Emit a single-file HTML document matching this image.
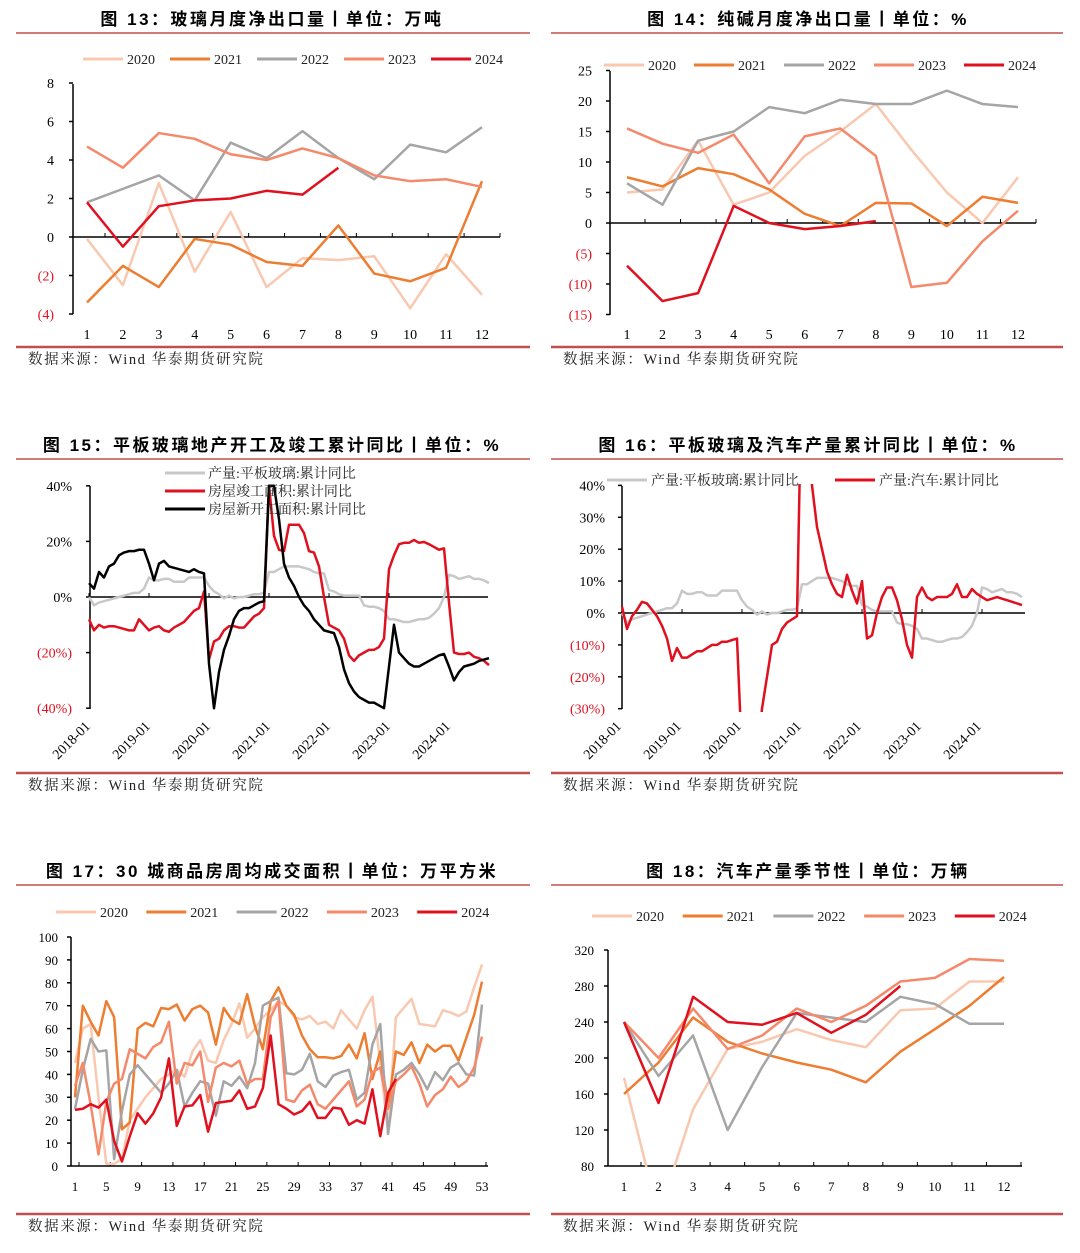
<!DOCTYPE html>
<html><head><meta charset="utf-8"><style>
html,body{margin:0;padding:0;background:#fff;}
svg{display:block;}
text{font-family:"Liberation Serif","Noto Serif CJK SC",serif;}
.t{font-family:"Liberation Sans","Noto Sans CJK SC",sans-serif;font-weight:bold;font-size:17px;letter-spacing:2.5px;}
.src{font-family:"Liberation Serif","Noto Serif CJK SC",serif;font-size:14.5px;fill:#222;letter-spacing:1.6px;}
</style></head><body>
<svg id="page" width="1080" height="1253" viewBox="0 0 1080 1253" xmlns="http://www.w3.org/2000/svg">
<defs>
<clipPath id="c15"><rect x="88" y="484" width="402" height="228"/></clipPath>
<clipPath id="c16"><rect x="620" y="484" width="406" height="228"/></clipPath>
<clipPath id="c18"><rect x="606" y="940" width="420" height="227"/></clipPath>
</defs>
<g><text class="t" x="272" y="25" text-anchor="middle">图 13：玻璃月度净出口量丨单位：万吨</text></g>
<g><text class="t" x="808" y="25" text-anchor="middle">图 14：纯碱月度净出口量丨单位：%</text></g>
<g><text class="t" x="272" y="451" text-anchor="middle">图 15：平板玻璃地产开工及竣工累计同比丨单位：%</text></g>
<g><text class="t" x="808" y="451" text-anchor="middle">图 16：平板玻璃及汽车产量累计同比丨单位：%</text></g>
<g><text class="t" x="272" y="877" text-anchor="middle">图 17：30 城商品房周均成交面积丨单位：万平方米</text></g>
<g><text class="t" x="808" y="877" text-anchor="middle">图 18：汽车产量季节性丨单位：万辆</text></g>
<g stroke="#c0504d">
<line x1="16" y1="33" x2="530" y2="33" stroke-width="1.5"/><line x1="551" y1="33" x2="1063" y2="33" stroke-width="1.5"/>
<line x1="16" y1="459" x2="530" y2="459" stroke-width="1.5"/><line x1="551" y1="459" x2="1063" y2="459" stroke-width="1.5"/>
<line x1="16" y1="885" x2="530" y2="885" stroke-width="1.5"/><line x1="551" y1="885" x2="1063" y2="885" stroke-width="1.5"/>
<line x1="16" y1="347" x2="530" y2="347" stroke-width="2.5"/><line x1="551" y1="347" x2="1063" y2="347" stroke-width="2.5"/>
<line x1="16" y1="773" x2="530" y2="773" stroke-width="2.5"/><line x1="551" y1="773" x2="1063" y2="773" stroke-width="2.5"/>
<line x1="16" y1="1214" x2="530" y2="1214" stroke-width="2.5"/><line x1="551" y1="1214" x2="1063" y2="1214" stroke-width="2.5"/>
</g>
<g>
<text class="src" x="28" y="364">数据来源：Wind 华泰期货研究院</text><text class="src" x="563" y="364">数据来源：Wind 华泰期货研究院</text>
<text class="src" x="28" y="790">数据来源：Wind 华泰期货研究院</text><text class="src" x="563" y="790">数据来源：Wind 华泰期货研究院</text>
<text class="src" x="28" y="1231">数据来源：Wind 华泰期货研究院</text><text class="src" x="563" y="1231">数据来源：Wind 华泰期货研究院</text>
</g>
</svg>
<script>
// ---- chart 13 data ----
const c13_2020=[-0.1,-2.5,2.8,-1.8,1.3,-2.6,-1.1,-1.2,-1.0,-3.7,-0.9,-3.0];
const c13_2021=[-3.4,-1.5,-2.6,-0.1,-0.4,-1.3,-1.5,0.6,-1.9,-2.3,-1.6,2.9];
const c13_2022=[1.8,2.5,3.2,1.9,4.9,4.1,5.5,4.1,3.0,4.8,4.4,5.7];
const c13_2023=[4.7,3.6,5.4,5.1,4.3,4.0,4.6,4.1,3.2,2.9,3.0,2.6];
const c13_2024=[1.8,-0.5,1.6,1.9,2.0,2.4,2.2,3.6];
const c13_ticks=[8,6,4,2,0,-2,-4];
// ---- chart 14 data ----
const c14_2020=[5,5.5,13.5,3,5,11,15,19.5,12,5,0,7.5];
const c14_2021=[7.5,6,9,8,5.5,1.5,-0.5,3.3,3.2,-0.5,4.3,3.3];
const c14_2022=[6.5,3,13.5,15,19,18,20.2,19.5,19.5,21.7,19.5,19];
const c14_2023=[15.5,13,11.5,14.5,6.5,14.2,15.5,11,-10.5,-9.8,-3,2];
const c14_2024=[-7,-12.8,-11.5,2.8,0,-1,-0.5,0.3];
const c14_ticks=[25,20,15,10,5,0,-5,-10,-15];
// ---- chart 15/16 data (monthly 2018-01 .. 2024-09) ----
const months_years=["2018-01","2019-01","2020-01","2021-01","2022-01","2023-01","2024-01"];
const glassProd=[0,-3,-2,-1.5,-1,-0.5,0,0.5,1,1.5,1.5,3, 7,6,6,6.5,6.5,5.5,5.5,5.5,7,7,7,7, 4,2,1,-0.5,0.5,-0.5,0,0,0.5,1,1,1.5, 9,9,10,11,11,11,11,10.5,10,9,8.5,8.5, 2.5,2,1,0.5,0.5,0.5,0.5,-3,-3.5,-3.5,-4,-5, -8,-8,-8.5,-9,-9,-8.5,-8,-8,-7.5,-6,-4,0, 8,7.5,6.5,7,7.5,6.5,6.5,6,5];
const completion=[-8,-12,-10,-11,-10.5,-10.5,-11,-11.5,-12,-12,-8,-10, -12,-11,-10.5,-12,-12.5,-11,-10,-9,-7,-5,-4,2, -22.5,-16,-15,-12,-10.5,-10.5,-11,-11,-9,-7,-6,-4, 40,22,17,16.5,26,26,26,23,16.5,16,11,0, -10,-11,-12,-15,-21,-23,-21,-20,-19,-19,-18,-15, 10,15,19,19.5,19.5,20.5,19.5,19.8,19,18,17,17.5, -2,-20,-20.5,-20.5,-20,-21.5,-22,-23,-24.5];
const newStart=[5,3,9,7,11,12,15,16,16.5,16.5,17,17, 12,6,12,13,11,10.5,10,9.5,9,10,9,8.5, -24,-40,-27,-19,-14,-8,-5,-4,-4,-3,-2,-1.5, 40,40,28,12,7,4,0,-3,-5,-8,-10,-12, -12.5,-13,-18,-26,-31,-34,-36,-37,-38,-38,-39,-40, -25,-10,-20,-22,-24,-25,-25,-24,-23,-22,-21,-20.5, -25,-30,-27,-25,-24.5,-24,-23,-22.5,-22];
const autoProd=[2,-5,-1,1,3.5,3,1,-1,-4,-8,-15,-11, -14,-14,-13,-12,-12,-11,-10,-10,-9,-9,-8.5,-8, -45,-45,-45,-45,-30,-20,-10,-9,-5,-3,-2,-1, 80,80,40,27,20,13,9,6,5,12,7,3, 10,-8,-7,0,5,8,8,4,-2,-10,-14,5, 8,5,4,5,5,5,6,9,5,5,7.5,6, 5,4,4.5,5,4.5,4,3.5,3,2.5];
const c15_ticks=[40,20,0,-20,-40];
const c16_ticks=[40,30,20,10,0,-10,-20,-30];
// ---- chart 17 data (weekly) ----
const c17_2020=[45,60,62,30,1,1,3,20,25,30,34,38,40,42,39,50,55,46,45,55,62,71,56,60,65,68,72,70,65,64,65.5,62,63,60,68,64,60,68,74,45,15,65,69,73,62,61.5,61,68,67,65.5,67.5,78,88];
const c17_2021=[30,70,63,57,72,65,16,19,60,62.5,61,69,68.5,70.5,63.5,68.5,70,67,53,69,64,62,75,61,51,72,78,70,66,57,51,47.5,47.5,47,48,53,47,58,38,50,26,50,48.5,54,45,53,50,52.5,52.5,46,56,66,80.5];
const c17_2022=[25,42,55.5,50,50.5,3,24,40,44,40,36,32,36,42,26,32,37,36,22,37,35,39,34,45,70,72,73.5,40.5,40,42,49,37,34.5,39.5,41,42,29,32,53,62,14,40,42,45,40,33.5,41,37.5,43,45,40,39.5,70.5];
const c17_2023=[35,45,27,5,28,36,38,51,49,47,52,54,63,36,45,44,50,28,43,45,43.5,46,36,38,38,65,72,29,28,33,35.5,27,25,29,33,37,26,29,41,43,25,37,40,43.5,36,26,31,33.5,39,34.5,37,43,56.5];
const c17_2024=[24.5,25,27,25.5,29,11,2,13,23,18.5,23,30,47,17.5,26,26.5,31,15,27.5,28,28.5,33,25,26,34,57,27,25,22.5,24,28,21,21,25.5,25,18,20,18.5,33.5,13,32,38];
const c17_ticks=[100,90,80,70,60,50,40,30,20,10,0];
const c17_xlabels=[1,5,9,13,17,21,25,29,33,37,41,45,49,53];
// ---- chart 18 data ----
const c18_2020=[178,25,143,210,218,232,220,212,253,255,285,285];
const c18_2021=[160,195,245,218,205,195,187,173,207,232,258,290];
const c18_2022=[240,180,225,120,190,250,245,240,268,260,238,238];
const c18_2023=[240,200,255,210,225,255,240,258,285,289,310,308];
const c18_2024=[240,150,268,240,237,250,228,248,280];
const c18_ticks=[320,280,240,200,160,120,80];
const months12=[1,2,3,4,5,6,7,8,9,10,11,12];

const NS="http://www.w3.org/2000/svg";
const svg=document.getElementById('page');
const COL={y2020:'#f9c8b0',y2021:'#ed7d31',y2022:'#a5a5a5',y2023:'#f4896b',y2024:'#e0101f'};
function el(tag,parent,attrs){const e=document.createElementNS(NS,tag);for(const k in attrs)e.setAttribute(k,attrs[k]);parent.appendChild(e);return e;}
function fmt(v,pct){const a=Math.abs(v)+(pct?'%':'');return v<0?'('+a+')':a;}
function group(name){const g=el('g',svg,{});return g;}
function yTicks(g,ticks,ys,axX,pct,labelX,fs){
  ticks.forEach(v=>{
    const t=el('text',g,{x:labelX,y:ys(v)+5,'text-anchor':'end','font-size':fs||14,fill:v<0?'#e0101f':'#000'});
    
    
    t.textContent=fmt(v,pct);
    el('line',g,{x1:axX,x2:axX+4,y1:ys(v),y2:ys(v),stroke:'#000','stroke-width':1.5});
  });
}
function line(g,vals,xs,ys,color,w,name,clip){
  const p=el('polyline',g,{points:vals.map((v,i)=>xs(i)+','+ys(v)).join(' '),fill:'none',stroke:color,'stroke-width':w||2.5,'stroke-linejoin':'round'});
  if(clip)p.setAttribute('clip-path','url(#'+clip+')');
  
  
}
function legend(g,items,y){
  items.forEach(it=>{
    el('line',g,{x1:it.x,x2:it.x+40,y1:y,y2:y,stroke:it.c,'stroke-width':3});
    const t=el('text',g,{x:it.x+(it.tx||44),y:y+5,'font-size':it.fs||14,fill:'#222'});
    
    
    t.textContent=it.l;
  });
}
const yrs=['2020','2021','2022','2023','2024'];
const cols=[COL.y2020,COL.y2021,COL.y2022,COL.y2023,COL.y2024];

// ===== chart 13 =====
(function(){
  const g=group('chart-13');
  const ys=v=>237-v*19.25, xs=i=>87+i*(482-87)/11;
  el('line',g,{x1:73,x2:73,y1:84,y2:314,stroke:'#000','stroke-width':1.5});
  el('line',g,{x1:73,x2:500,y1:237,y2:237,stroke:'#000','stroke-width':1.5});
  yTicks(g,c13_ticks,ys,69,false,54);
  months12.forEach((m,i)=>{el('line',g,{x1:xs(i)+18,x2:xs(i)+18,y1:237,y2:233,stroke:'#000'});
    const t=el('text',g,{x:xs(i),y:339,'text-anchor':'middle','font-size':14});t.textContent=m;});
  [c13_2020,c13_2021,c13_2022,c13_2023,c13_2024].forEach((d,k)=>line(g,d,xs,ys,cols[k],2.5,'series-'+yrs[k]));
  legend(g,yrs.map((l,k)=>({x:83+k*87,c:cols[k],l})),59);
})();
// ===== chart 14 =====
(function(){
  const g=group('chart-14');
  const ys=v=>223-v*6.1, xs=i=>627+i*(1018-627)/11;
  el('line',g,{x1:610,x2:610,y1:71,y2:315,stroke:'#000','stroke-width':1.5});
  el('line',g,{x1:610,x2:1036,y1:223,y2:223,stroke:'#000','stroke-width':1.5});
  yTicks(g,c14_ticks,ys,606,false,592);
  months12.forEach((m,i)=>{el('line',g,{x1:xs(i)+18,x2:xs(i)+18,y1:223,y2:219,stroke:'#000'});
    const t=el('text',g,{x:xs(i),y:339,'text-anchor':'middle','font-size':14});t.textContent=m;});
  [c14_2020,c14_2021,c14_2022,c14_2023,c14_2024].forEach((d,k)=>line(g,d,xs,ys,cols[k],2.5,'series-'+yrs[k]));
  legend(g,yrs.map((l,k)=>({x:604+k*90,c:cols[k],l})),65);
})();
// ===== chart 15 =====
(function(){
  const g=group('chart-15');
  const ys=v=>597-v*2.78, xs=i=>89+i*5.0;
  el('line',g,{x1:90,x2:90,y1:486,y2:709,stroke:'#000','stroke-width':1.5});
  el('line',g,{x1:90,x2:488,y1:597,y2:597,stroke:'#000','stroke-width':1.5});
  yTicks(g,c15_ticks,ys,86,true,72,14);
  months_years.forEach((l,k)=>{const x=xs(k*12);el('line',g,{x1:x,x2:x,y1:597,y2:593,stroke:'#000'});
    const t=el('text',g,{x:x+2,y:727,'text-anchor':'end','font-size':14,transform:'rotate(-45 '+(x+2)+' 727)'});t.textContent=l;});
  line(g,glassProd,xs,ys,'#c8c8c8',2.5,'series-glass-production','c15');
  line(g,completion,xs,ys,'#e0101f',2.5,'series-housing-completion','c15');
  line(g,newStart,xs,ys,'#000',2.5,'series-housing-new-start','c15');
  legend(g,[{x:165,c:'#c8c8c8',l:'产量:平板玻璃:累计同比',tx:43}],473);
  legend(g,[{x:165,c:'#e0101f',l:'房屋竣工面积:累计同比',tx:43}],491);
  legend(g,[{x:165,c:'#000',l:'房屋新开工面积:累计同比',tx:43}],509);
})();
// ===== chart 16 =====
(function(){
  const g=group('chart-16');
  const ys=v=>613-v*3.19, xs=i=>622+i*5.0;
  el('line',g,{x1:622,x2:622,y1:486,y2:709,stroke:'#000','stroke-width':1.5});
  el('line',g,{x1:622,x2:1025,y1:613,y2:613,stroke:'#000','stroke-width':1.5});
  yTicks(g,c16_ticks,ys,618,true,605,14);
  months_years.forEach((l,k)=>{const x=xs(k*12);el('line',g,{x1:x,x2:x,y1:613,y2:609,stroke:'#000'});
    const t=el('text',g,{x:x,y:727,'text-anchor':'end','font-size':14,transform:'rotate(-45 '+x+' 727)'});t.textContent=l;});
  line(g,glassProd,xs,ys,'#c8c8c8',2.5,'series-glass-production','c16');
  line(g,autoProd,xs,ys,'#e0101f',2.5,'series-auto-production','c16');
  legend(g,[{x:607,c:'#c8c8c8',l:'产量:平板玻璃:累计同比'},{x:835,c:'#e0101f',l:'产量:汽车:累计同比'}],480);
})();
// ===== chart 17 =====
(function(){
  const g=group('chart-17');
  const ys=v=>1166-v*2.29, xs=i=>75+i*(482-75)/52;
  el('line',g,{x1:71,x2:71,y1:937,y2:1166,stroke:'#000','stroke-width':1.5});
  el('line',g,{x1:71,x2:488,y1:1166,y2:1166,stroke:'#000','stroke-width':1.5});
  yTicks(g,c17_ticks,ys,67,false,58,13);
  c17_xlabels.forEach(w=>{const x=xs(w-1);el('line',g,{x1:x+4,x2:x+4,y1:1166,y2:1162,stroke:'#000'});
    const t=el('text',g,{x:x,y:1191,'text-anchor':'middle','font-size':13});t.textContent=w;});
  [c17_2020,c17_2021,c17_2022,c17_2023,c17_2024].forEach((d,k)=>line(g,d,xs,ys,cols[k],2.5,'series-'+yrs[k]));
  legend(g,yrs.map((l,k)=>({x:56+k*90.3,c:cols[k],l})),912);
})();
// ===== chart 18 =====
(function(){
  const g=group('chart-18');
  const ys=v=>1166-(v-80)*0.9, xs=i=>624+i*(1004-624)/11;
  el('line',g,{x1:608,x2:608,y1:950,y2:1166,stroke:'#000','stroke-width':1.5});
  el('line',g,{x1:608,x2:1022,y1:1166,y2:1166,stroke:'#000','stroke-width':1.5});
  yTicks(g,c18_ticks,ys,604,false,594,13);
  months12.forEach((m,i)=>{el('line',g,{x1:xs(i)+17,x2:xs(i)+17,y1:1166,y2:1162,stroke:'#000'});
    const t=el('text',g,{x:xs(i),y:1191,'text-anchor':'middle','font-size':13});t.textContent=m;});
  [c18_2020,c18_2021,c18_2022,c18_2023,c18_2024].forEach((d,k)=>line(g,d,xs,ys,cols[k],2.5,'series-'+yrs[k],'c18'));
  legend(g,yrs.map((l,k)=>({x:592+k*90.7,c:cols[k],l})),916);
})();
</script>
</body></html>
